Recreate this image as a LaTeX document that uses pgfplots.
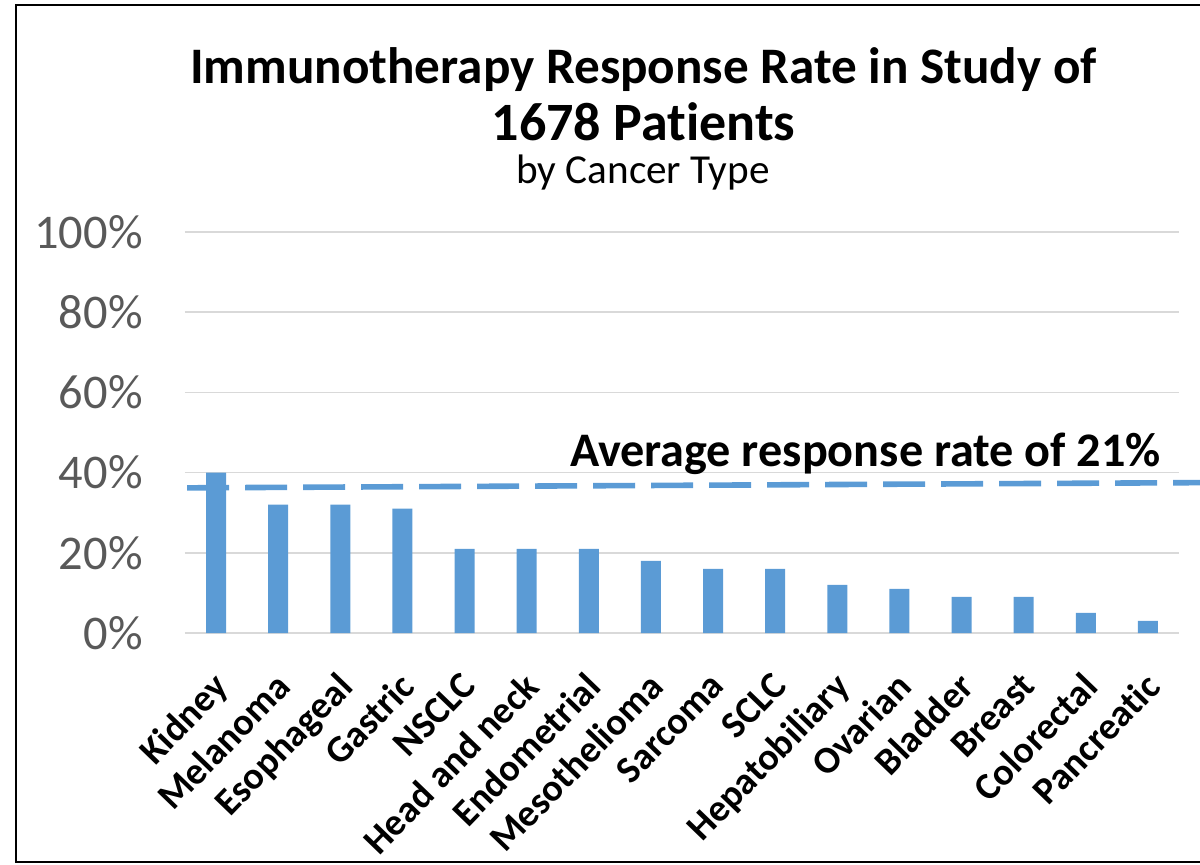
\documentclass[border=0pt]{standalone}
\usepackage{pgfplots}
\pgfplotsset{compat=1.18}
\usepackage{fontspec}
\setmainfont{Carlito}[Ligatures=NoCommon]
\definecolor{barblue}{HTML}{5B9BD5}
\definecolor{gridgray}{HTML}{D9D9D9}
\definecolor{ticktext}{HTML}{595959}
\begin{document}
\begin{tikzpicture}
\useasboundingbox (0,0) rectangle (600pt,-432pt);
\draw[line width=1pt, black] (8pt,-2.5pt) rectangle (615pt,-431pt);
\node[anchor=base, font=\fontsize{25.6}{30}\selectfont\bfseries] at (321.75pt,-41.5pt) {Immunotherapy Response Rate in Study of};
\node[anchor=base, font=\fontsize{27}{30}\selectfont\bfseries] at (321.75pt,-70pt) {1678 Patients};
\node[anchor=base, font=\fontsize{20.6}{23}\selectfont] at (321.5pt,-91.5pt) {by Cancer Type};
\begin{axis}[
  at={(92.5pt,-316.5pt)}, anchor=south west,
  scale only axis, width=497pt, height=200.5pt,
  xmin=-0.5, xmax=15.5, ymin=0, ymax=100,
  clip=false,
  axis line style={draw=none},
  major tick length=0pt,
  ymajorgrids, grid style={gridgray, line width=0.75pt},
  ytick={0,20,40,60,80,100},
  yticklabels={0\%,20\%,40\%,60\%,80\%,100\%},
  yticklabel style={anchor=east, inner sep=0pt, xshift=-21pt, text=ticktext, font=\fontsize{24.2}{27}\selectfont},
  xtick={0,...,15},
  xticklabels={Kidney,Melanoma,Esophageal,Gastric,NSCLC,Head and neck,Endometrial,Mesothelioma,Sarcoma,SCLC,Hepatobiliary,Ovarian,Bladder,Breast,Colorectal,Pancreatic},
  xticklabel style={rotate=46, anchor=north east, inner sep=0pt, yshift=-11pt, xshift=-15pt, font=\fontsize{19}{22}\selectfont\bfseries},
]
\addplot[ybar, bar width=10pt, fill=barblue, draw=none] coordinates {
(0,40) (1,32) (2,32) (3,31) (4,21) (5,21) (6,21) (7,18) (8,16) (9,16) (10,12) (11,11) (12,9) (13,9) (14,5) (15,3)};
\addplot[sharp plot, barblue, line width=2.8pt, dash pattern=on 21pt off 8pt] coordinates {(-0.467,36.2) (15.84,37.5)};
\end{axis}
\node[anchor=base east, font=\fontsize{24.1}{27}\selectfont\bfseries] at (584pt,-233pt) {Average response rate of 21\%};
\end{tikzpicture}
\end{document}
